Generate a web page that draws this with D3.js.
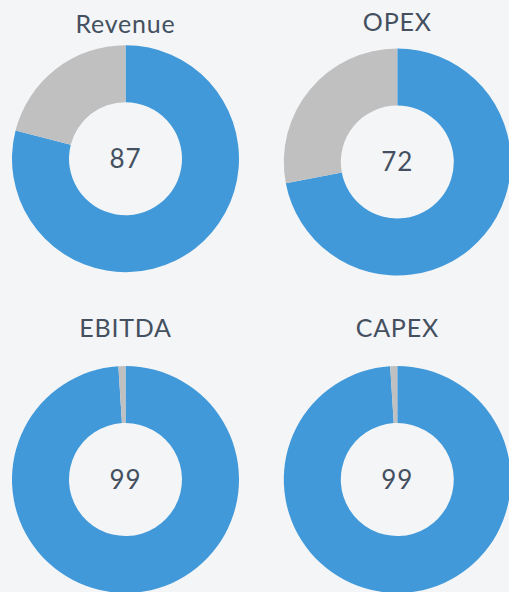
<!DOCTYPE html>
<html>
<head>
<meta charset="utf-8">
<script src="https://cdn.jsdelivr.net/npm/d3@7"></script>
<style>
  html, body { margin: 0; padding: 0; background: #f4f5f7; overflow: hidden; }
  svg { display: block; }
</style>
</head>
<body>
<div id="chart"></div>
<script>
const titles = ["Revenue", "OPEX", "EBITDA", "CAPEX"];
const centerValues = [87, 72, 99, 99];
const filledShare = [79, 72, 99, 99];   // blue part of each ring, out of 100
const total = 100;

const width = 509;
const height = 592;

// panel placement (centre of ring, title baseline)
const panels = [
    { cx: 125.5, cy: 158.7, ty: 33 },
    { cx: 397.3, cy: 162, ty: 30.7 },
    { cx: 125.5, cy: 479.5, ty: 337.3 },
    { cx: 397.3, cy: 479.5, ty: 337.3 }
];
const outerR = 113.5;
const innerR = 56.5;

const colors = d3.scaleOrdinal()
    .domain(["filled", "rest"])
    .range(["#4199da", "#c0c0c0"]);

const svg = d3.select("#chart")
    .append("svg")
    .attr("width", width)
    .attr("height", height);

const pie = d3.pie()
    .sort(null)
    .value(d => d.value);

const arc = d3.arc()
    .innerRadius(innerR)
    .outerRadius(outerR);

titles.forEach((title, i) => {
    const p = panels[i];
    const parts = [
        { key: "filled", value: filledShare[i] },
        { key: "rest", value: total - filledShare[i] }
    ];

    svg.append("text")
        .attr("x", p.cx)
        .attr("y", p.ty)
        .attr("text-anchor", "middle")
        .attr("font-family", "Lato, 'Noto Sans', sans-serif")
        .attr("font-size", "25px")
        .attr("letter-spacing", "0.8px")
        .attr("fill", "#44505f")
        .text(title);

    const g = svg.append("g")
        .attr("transform", `translate(${p.cx},${p.cy})`);

    g.selectAll("path")
        .data(pie(parts))
        .join("path")
        .attr("d", arc)
        .attr("fill", d => colors(d.data.key));

    g.append("text")
        .attr("text-anchor", "middle")
        .attr("dy", "0.36em")
        .attr("font-family", "Lato, 'Noto Sans', sans-serif")
        .attr("font-size", "26px")
        .attr("letter-spacing", "1px")
        .attr("fill", "#44505f")
        .text(centerValues[i]);
});
</script>
</body>
</html>
